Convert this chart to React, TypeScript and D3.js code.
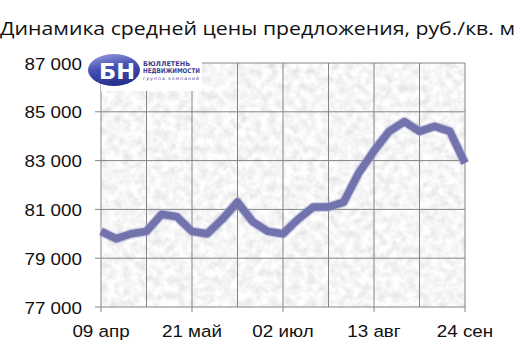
import React from "react";
import * as d3 from "d3";

const title = "Динамика средней цены предложения, руб./кв. м";
const prices = [80100, 79800, 80000, 80100, 80800, 80700, 80100, 80000, 80600, 81300, 80500, 80100, 80000, 80600, 81100, 81100, 81300, 82500, 83400, 84200, 84600, 84200, 84400, 84200, 82900];
const xTickIndex = [0, 6, 12, 18, 24];
const xTickLabels = ["09 апр", "21 май", "02 июл", "13 авг", "24 сен"];
const xGridIndex = [0, 3, 6, 9, 12, 15, 18, 21, 24];
const yTicks = [77000, 79000, 81000, 83000, 85000, 87000];

const W = 521, H = 345;
const M = { left: 101, right: 465, top: 63, bottom: 307 };

export default function App() {
  const x = d3.scaleLinear().domain([0, prices.length - 1]).range([M.left, M.right]);
  const y = d3.scaleLinear().domain([77000, 87000]).range([M.bottom, M.top]);
  const line = d3.line<number>().x((_, i) => x(i)).y((d) => y(d)).curve(d3.curveLinear);
  const fmt = (v: number) => d3.format(",")(v).replace(",", " ");
  const grid = "#858585";
  const font = "'Liberation Sans', Arial, sans-serif";
  return (
    <svg width={W} height={H} style={{ position: "absolute", left: 0, top: 0, background: "#fff" }}>
      <defs>
        <filter id="marble" x="0" y="0" width="100%" height="100%">
          <feTurbulence type="fractalNoise" baseFrequency="0.13" numOctaves={4} seed={7} result="n" />
          <feColorMatrix in="n" type="matrix" values="0.4 0 0 0 0.72  0.4 0 0 0 0.72  0.4 0 0 0 0.72  0 0 0 0 1" />
        </filter>
        <linearGradient id="logoG" x1="0" y1="0" x2="0.3" y2="1">
          <stop offset="0" stopColor="#9da2e0" />
          <stop offset="0.5" stopColor="#4650b4" />
          <stop offset="1" stopColor="#2a3290" />
        </linearGradient>
        <filter id="soft"><feGaussianBlur stdDeviation="0.7" /></filter>
      </defs>
      <text x={0} y={35} fontFamily="'Open Sans', 'Noto Sans', sans-serif" fontSize={19} fill="#111" textLength={515} lengthAdjust="spacingAndGlyphs">{title}</text>
      <rect x={M.left} y={M.top} width={M.right - M.left} height={M.bottom - M.top} filter="url(#marble)" />
      {yTicks.map((t) => (
        <g key={t}>
          <line x1={M.left - 6} x2={M.right} y1={y(t)} y2={y(t)} stroke={grid} strokeWidth={1} />
          <text transform={`translate(82,${y(t) + 6.5}) scale(1.14,1)`} textAnchor="end" fontFamily={font} fontSize={16.5} fill="#111">{fmt(t)}</text>
        </g>
      ))}
      {xGridIndex.map((i) => (
        <line key={i} x1={x(i)} x2={x(i)} y1={M.top} y2={M.bottom} stroke={grid} strokeWidth={1} />
      ))}
      {xTickIndex.map((i, k) => (
        <g key={i}>
          <line x1={x(i)} x2={x(i)} y1={M.bottom} y2={M.bottom + 5} stroke={grid} strokeWidth={1} />
          <text transform={`translate(${x(i)},337) scale(1.14,1)`} textAnchor="middle" fontFamily={font} fontSize={16.5} fill="#111">{xTickLabels[k]}</text>
        </g>
      ))}
      <path d={line(prices) || ""} fill="none" stroke="#9a9bd0" strokeWidth={10} strokeLinejoin="round" opacity={0.45} filter="url(#soft)" />
      <path d={line(prices) || ""} fill="none" stroke="#7273ad" strokeWidth={7.5} strokeLinejoin="round" strokeLinecap="butt" />
      <g>
        <rect x={101} y={55} width={101} height={36} fill="#fff" />
        <ellipse cx={114} cy={70} rx={26} ry={16} fill="url(#logoG)" />
        <text x={117} y={79} textAnchor="middle" fontFamily="'DejaVu Sans', sans-serif" fontWeight="bold" fontSize={22} fill="#fff" textLength={36} lengthAdjust="spacingAndGlyphs">БН</text>
        <text x={143} y={66} fontFamily="'DejaVu Sans', sans-serif" fontWeight="bold" fontSize={6.5} fill="#3a3f8f">БЮЛЛЕТЕНЬ</text>
        <text x={143} y={73} fontFamily="'DejaVu Sans', sans-serif" fontWeight="bold" fontSize={6.5} fill="#3a3f8f" textLength={57} lengthAdjust="spacingAndGlyphs">НЕДВИЖИМОСТИ</text>
        <text x={143} y={80} fontFamily="'DejaVu Sans', sans-serif" fontSize={4.5} fill="#3a3f8f" textLength={57} letterSpacing={1}>группа компаний</text>
      </g>
    </svg>
  );
}
